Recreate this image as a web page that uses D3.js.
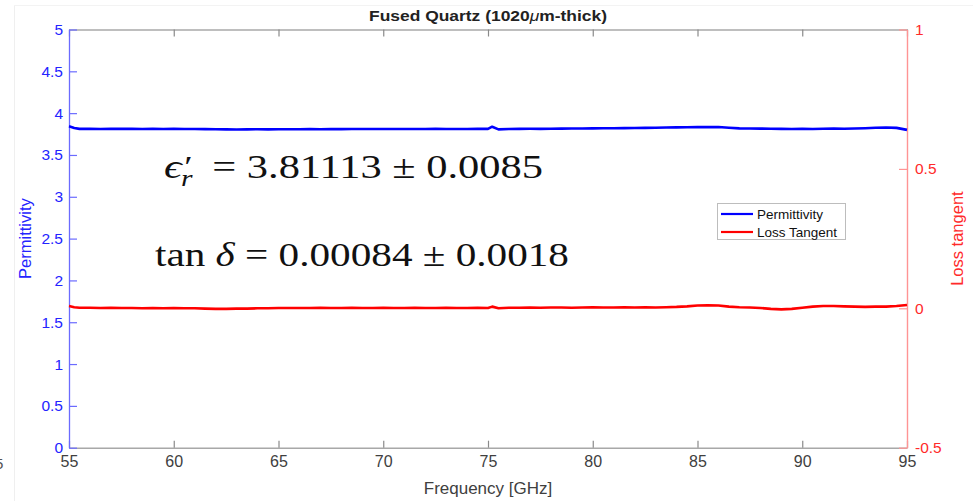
<!DOCTYPE html>
<html><head><meta charset="utf-8">
<script src="https://cdn.jsdelivr.net/npm/d3@7"></script>
<style>body{margin:0;background:#fff}svg{display:block}</style>
</head><body>
<svg id="c" width="973" height="501"></svg>
<script>
const freq = [55, 55.25, 55.5,
  56, 56.5, 57, 57.5, 58, 58.5, 59, 59.5, 60, 60.5,
  61, 61.5, 62, 62.5, 63, 63.5, 64, 64.5, 65, 65.5,
  66, 66.5, 67, 67.5, 68, 68.5, 69, 69.5, 70, 70.5,
  71, 71.5, 72, 72.5, 73, 73.5, 74, 74.5,
  75, 75.2, 75.5,
  76, 76.5, 77, 77.5, 78, 78.5, 79, 79.5, 80, 80.5,
  81, 81.5, 82, 82.5, 83, 83.5, 84, 84.5, 85, 85.5,
  86, 86.5, 87, 87.5, 88, 88.5, 89, 89.5, 90, 90.5,
  91, 91.5, 92, 92.5, 93, 93.5, 94, 94.5, 95];
const permittivity = [3.842, 3.822, 3.812,
  3.813, 3.811, 3.814, 3.812, 3.813, 3.811, 3.812, 3.810, 3.812, 3.811,
  3.810, 3.809, 3.808, 3.806, 3.805, 3.806, 3.807, 3.806, 3.808, 3.807,
  3.808, 3.809, 3.808, 3.810, 3.809, 3.810, 3.811, 3.810, 3.811, 3.810,
  3.811, 3.810, 3.811, 3.812, 3.811, 3.810, 3.811, 3.812,
  3.812, 3.838, 3.806,
  3.810, 3.812, 3.813, 3.812, 3.814, 3.815, 3.816, 3.817, 3.818, 3.819,
  3.820, 3.821, 3.822, 3.824, 3.826, 3.828, 3.830, 3.832, 3.834, 3.833,
  3.834, 3.826, 3.818, 3.816, 3.815, 3.814, 3.812, 3.811, 3.812, 3.811,
  3.813, 3.815, 3.814, 3.816, 3.820, 3.826, 3.828, 3.824, 3.800];
const lossTangent = [0.008, 0.004, 0.002,
  0.002, 0.001, 0.002, 0.001, 0.001, 0.000, 0.001, 0.000, 0.001, 0.000,
  0.000, -0.001, -0.002, -0.002, -0.001, -0.001, 0.000, 0.000, 0.001, 0.001,
  0.001, 0.001, 0.002, 0.001, 0.001, 0.002, 0.001, 0.001, 0.002, 0.001,
  0.001, 0.002, 0.001, 0.001, 0.002, 0.001, 0.001, 0.002,
  0.001, 0.006, 0.000,
  0.002, 0.002, 0.003, 0.002, 0.003, 0.003, 0.002, 0.003, 0.004, 0.003,
  0.003, 0.004, 0.003, 0.004, 0.003, 0.004, 0.005, 0.007, 0.010, 0.011,
  0.010, 0.006, 0.004, 0.003, 0.001, -0.002, -0.004, -0.002, 0.002, 0.006,
  0.008, 0.008, 0.007, 0.006, 0.005, 0.006, 0.006, 0.008, 0.012];
const xTicks = [55, 60, 65, 70, 75, 80, 85, 90, 95];
const leftTicks = [0, 0.5, 1, 1.5, 2, 2.5, 3, 3.5, 4, 4.5, 5];
const rightTicks = [-0.5, 0, 0.5, 1];
const rightTickLabels = ["-0.5", "0", "0.5", "1"];
const seriesNames = ["Permittivity", "Loss Tangent"];

const svg = d3.select("#c");
const L = 69, R = 907, T = 29.5, B = 447.7;
const x = d3.scaleLinear().domain([55, 95]).range([L, R]);
const yL = d3.scaleLinear().domain([0, 5]).range([B, T]);
const yR = d3.scaleLinear().domain([-0.5, 1]).range([B, T]);
const sans = "'Liberation Sans', Arial, sans-serif";

// faint figure frame
svg.append("line").attr("x1", 14.5).attr("x2", 14.5).attr("y1", 5).attr("y2", 501).attr("stroke", "#efefef");
svg.append("line").attr("x1", 14).attr("x2", 973).attr("y1", 5.5).attr("y2", 5.5).attr("stroke", "#f3f3f3");
svg.append("text").attr("x", -5).attr("y", 469).attr("font-family", sans).attr("font-size", 15).attr("fill", "#555").text("5");

// top & bottom axes (gray)
const xb = svg.append("g").attr("transform", `translate(0,${B})`)
  .call(d3.axisBottom(x).tickValues(xTicks).tickFormat(d3.format("d")).tickSizeInner(-7).tickSizeOuter(0).tickPadding(8));
const xt = svg.append("g").attr("transform", `translate(0,${T})`)
  .call(d3.axisTop(x).tickValues(xTicks).tickFormat("").tickSizeInner(-7).tickSizeOuter(0));
[xb, xt].forEach(g => {
  g.select(".domain").attr("stroke", "#a8a8a8").attr("stroke-width", 1.6);
  g.selectAll(".tick line").attr("stroke", "#8a8a8a").attr("stroke-width", 1.2);
  g.selectAll("text").attr("font-family", sans).attr("font-size", 16).attr("fill", "#404040");
});

// left axis
const yl = svg.append("g").attr("transform", `translate(${L},0)`)
  .call(d3.axisLeft(yL).tickValues(leftTicks).tickFormat(d => String(d)).tickSizeInner(-8).tickSizeOuter(0).tickPadding(6));
yl.select(".domain").attr("stroke", "#6b6bff").attr("stroke-width", 1.3);
yl.selectAll(".tick line").attr("stroke", "#6b6bff").attr("stroke-width", 1.2);
yl.selectAll("text").attr("font-family", sans).attr("font-size", 15.5).attr("fill", "#2424ff");

// right axis
const yr = svg.append("g").attr("transform", `translate(${R},0)`)
  .call(d3.axisRight(yR).tickValues(rightTicks).tickFormat((d, i) => rightTickLabels[i]).tickSizeInner(-8).tickSizeOuter(0).tickPadding(8));
yr.select(".domain").attr("stroke", "#ff9494").attr("stroke-width", 1.4);
yr.selectAll(".tick line").attr("stroke", "#ff9494").attr("stroke-width", 1.2);
yr.selectAll("text").attr("font-family", sans).attr("font-size", 15.5).attr("fill", "#ff2a2a");

// lines
const lineP = d3.line().x((d, i) => x(freq[i])).y(d => yL(d));
const lineT = d3.line().x((d, i) => x(freq[i])).y(d => yR(d));
svg.append("path").datum(lossTangent).attr("d", lineT).attr("fill", "none").attr("stroke", "#ff0000").attr("stroke-width", 2.6).attr("stroke-linejoin", "round");
svg.append("path").datum(permittivity).attr("d", lineP).attr("fill", "none").attr("stroke", "#0000ff").attr("stroke-width", 2.6).attr("stroke-linejoin", "round");

// title and labels
svg.append("text").attr("x", (L + R) / 2).attr("y", 21).attr("text-anchor", "middle")
  .attr("font-family", sans).attr("font-weight", "bold").attr("font-size", 15).attr("fill", "#222")
  .attr("textLength", 238).attr("lengthAdjust", "spacingAndGlyphs")
  .call(t => { t.append("tspan").text("Fused Quartz (1020"); t.append("tspan").attr("font-style", "italic").attr("font-weight", "normal").text("μ"); t.append("tspan").text("m-thick)"); });
svg.append("text").attr("x", (L + R) / 2).attr("y", 494).attr("text-anchor", "middle")
  .attr("font-family", sans).attr("font-size", 17).attr("fill", "#404040").text("Frequency [GHz]");
svg.append("text").attr("transform", `translate(31,${(T + B) / 2}) rotate(-90)`).attr("text-anchor", "middle")
  .attr("font-family", sans).attr("font-size", 16.5).attr("fill", "#2424ff").text("Permittivity");
svg.append("text").attr("transform", `translate(963,${(T + B) / 2}) rotate(-90)`).attr("text-anchor", "middle")
  .attr("font-family", sans).attr("font-size", 16.5).attr("fill", "#ff2a2a").text("Loss tangent");

// legend
const lg = svg.append("g");
lg.append("rect").attr("x", 717.5).attr("y", 203.5).attr("width", 128).attr("height", 36).attr("fill", "#fff").attr("stroke", "#bdbdbd");
[["#0000ff", 214], ["#ff0000", 232]].forEach(([c, yy], i) => {
  lg.append("line").attr("x1", 721).attr("x2", 753).attr("y1", yy).attr("y2", yy).attr("stroke", c).attr("stroke-width", 2.2);
  lg.append("text").attr("x", 757).attr("y", yy + 5).attr("font-family", sans).attr("font-size", 13.5).attr("fill", "#111").text(seriesNames[i]);
});

// annotations
const serif = "'Liberation Serif', 'DejaVu Serif', serif";
svg.append("text").attr("x", 164).attr("y", 178).attr("font-family", serif).attr("fill", "#111")
  .attr("textLength", 379).attr("lengthAdjust", "spacingAndGlyphs")
  .call(t => {
    t.append("tspan").attr("font-size", 34).attr("font-style", "italic").text("ϵ");
    t.append("tspan").attr("font-size", 30).attr("dx", 2).attr("dy", -2).text("′");
    t.append("tspan").attr("font-size", 23).attr("font-style", "italic").attr("dx", -9).attr("dy", 10).text("r");
    t.append("tspan").attr("font-size", 33).attr("dx", 7).attr("dy", -8).text(" = 3.81113 ± 0.0085");
  });
svg.append("text").attr("x", 155).attr("y", 266).attr("font-family", serif).attr("font-size", 33).attr("fill", "#111")
  .attr("textLength", 414).attr("lengthAdjust", "spacingAndGlyphs")
  .call(t => { t.append("tspan").text("tan "); t.append("tspan").attr("font-style", "italic").text("δ"); t.append("tspan").text(" = 0.00084 ± 0.0018"); });
</script>
</body></html>
